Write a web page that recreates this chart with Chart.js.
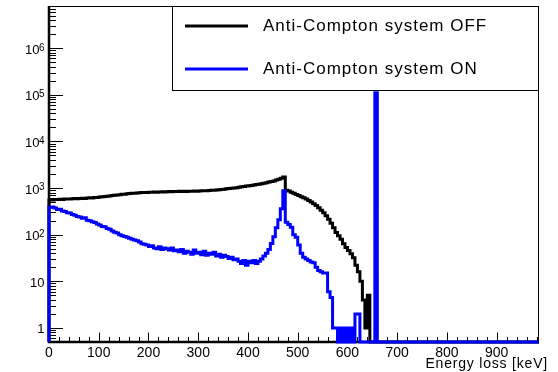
<!DOCTYPE html>
<html lang="en">
<head>
    <meta charset="UTF-8">
    <title>Anti-Compton spectrum</title>
    <script src="https://cdn.jsdelivr.net/npm/chart.js"></script>
    <style>
        body { margin: 0; background: #fff; }
        #spectrum { display: block; }
    </style>
</head>
<body>
    <canvas id="spectrum" width="558" height="372"></canvas>

    <script>
        // lower edge of each 5 keV bin
        const binLow = [
            0, 5, 10, 15, 20, 25, 30, 35, 40, 45, 50, 55, 60, 65, 70, 75, 80, 85, 90, 95,
            100, 105, 110, 115, 120, 125, 130, 135, 140, 145, 150, 155, 160, 165, 170, 175, 180, 185, 190, 195,
            200, 205, 210, 215, 220, 225, 230, 235, 240, 245, 250, 255, 260, 265, 270, 275, 280, 285, 290, 295,
            300, 305, 310, 315, 320, 325, 330, 335, 340, 345, 350, 355, 360, 365, 370, 375, 380, 385, 390, 395,
            400, 405, 410, 415, 420, 425, 430, 435, 440, 445, 450, 455, 460, 465, 470, 475, 480, 485, 490, 495,
            500, 505, 510, 515, 520, 525, 530, 535, 540, 545, 550, 555, 560, 565, 570, 575, 580, 585, 590, 595,
            600, 605, 610, 615, 620, 625, 630, 635, 640, 645, 650, 655, 660, 665, 670, 675, 680, 685
        ];

        // counts, Anti-Compton system OFF
        const countsOff = [
            550, 560, 555, 570, 565, 575, 570, 580, 585, 580, 590, 595, 590, 600, 605, 600, 610, 620, 615, 625,
            630, 640, 650, 655, 665, 675, 690, 700, 710, 720, 735, 740, 750, 760, 770, 775, 785, 790, 800, 805,
            805, 810, 815, 820, 815, 825, 830, 825, 835, 840, 835, 845, 840, 850, 845, 850, 845, 855, 850, 860,
            855, 865, 870, 875, 880, 890, 895, 900, 910, 920, 930, 945, 960, 975, 990, 1005, 1020, 1040, 1060, 1080,
            1100, 1120, 1140, 1160, 1185, 1210, 1240, 1270, 1300, 1340, 1380, 1420, 1480, 1540, 1620, 1720, 900, 860, 810, 770,
            730, 690, 650, 620, 580, 540, 500, 460, 420, 380, 335, 295, 255, 215, 175, 140, 112, 95, 80, 64,
            53, 46, 39, 32, 22, 16, 10, 4, 1, 5, 0, 0, 0, 0, 0, 0, 0, 0
        ];

        // counts, Anti-Compton system ON
        const countsOn = [
            370, 385, 390, 375, 345, 350, 320, 315, 295, 290, 270, 262, 245, 240, 225, 230, 205, 200, 190, 182,
            170, 162, 150, 148, 135, 130, 120, 113, 108, 100, 95, 91, 88, 84, 80, 77, 74, 70, 64, 62,
            60, 56, 58, 52, 50, 55, 48, 52, 50, 47, 52, 45, 47, 43, 48, 40, 44, 42, 38, 47,
            40, 42, 37, 44, 36, 40, 38, 42, 35, 38, 33, 36, 34, 31, 33, 29, 30, 27, 24, 28,
            22, 27, 25, 28, 24, 27, 30, 35, 40, 48, 65, 90, 140, 210, 360, 880, 185, 165, 145, 100,
            88, 60, 40, 33, 30, 28, 26, 25, 20, 17, 16, 15, 15, 6, 4.5, 1, 1, 0, 1, 0,
            1, 0, 1, 0, 2, 2, 0, 0, 0, 0, 0, 0, 110000, 0, 0, 0, 0, 0
        ];

        const seriesLabels = ['Anti-Compton system OFF', 'Anti-Compton system ON'];
        const seriesColors = ['#000000', '#0000ff'];
        const xTickLabels = [0, 100, 200, 300, 400, 500, 600, 700, 800, 900];
        const yDecades = [0, 1, 2, 3, 4, 5, 6];   // 10^n labels
        const xTitle = 'Energy loss [keV]';

        const X_MIN = 0, X_MAX = 985;
        const Y_MIN = 0.5, Y_MAX = 8e6;
        const FONT = "'Liberation Sans', Arial, sans-serif";

        // histogram as a stepped line, empty bins sit on the bottom of the log axis
        function histPoints(counts) {
            const pts = [{ x: binLow[0], y: Y_MIN }];
            counts.forEach((c, i) => pts.push({ x: binLow[i], y: c > 0 ? c : Y_MIN }));
            pts.push({ x: X_MAX, y: Y_MIN });
            return pts;
        }

        // ROOT style axes: ticks pointing inwards, frame, labels with exponents
        const rootAxes = {
            id: 'rootAxes',
            beforeDatasetsDraw(chart) {
                const { ctx, chartArea: a, scales: { x, y } } = chart;
                ctx.save();
                ctx.strokeStyle = '#000';

                // frame
                ctx.lineWidth = 1;
                ctx.beginPath();
                ctx.moveTo(a.left, a.top + 0.5);
                ctx.lineTo(a.right - 0.5, a.top + 0.5);
                ctx.lineTo(a.right - 0.5, a.bottom);
                ctx.stroke();
                ctx.lineWidth = 2.5;
                ctx.beginPath();
                ctx.moveTo(a.left, a.top);
                ctx.lineTo(a.left, a.bottom);
                ctx.lineTo(a.right, a.bottom);
                ctx.stroke();

                // x ticks
                ctx.lineWidth = 1;
                ctx.beginPath();
                for (let v = X_MIN; v < X_MAX; v += 20) {
                    const px = Math.round(x.getPixelForValue(v)) + 0.5;
                    const len = v % 100 === 0 ? 9.5 : 5;
                    ctx.moveTo(px, a.bottom);
                    ctx.lineTo(px, a.bottom - len);
                }
                // y ticks (decades and 2..9 sub-ticks)
                for (let d = -1; d <= 6; d++) {
                    for (let k = 1; k <= 9; k++) {
                        const v = k * Math.pow(10, d);
                        if (v < Y_MIN || v > Y_MAX) continue;
                        const py = Math.round(y.getPixelForValue(v)) + 0.5;
                        const len = k === 1 ? 14 : 7;
                        ctx.moveTo(a.left, py);
                        ctx.lineTo(a.left + len, py);
                    }
                }
                ctx.stroke();

                // y labels
                ctx.fillStyle = '#000';
                ctx.textBaseline = 'alphabetic';
                const right = a.left - 4.5;
                yDecades.forEach(n => {
                    const py = y.getPixelForValue(Math.pow(10, n));
                    if (n < 2) {
                        ctx.font = '13px ' + FONT;
                        ctx.textAlign = 'right';
                        ctx.fillText(n === 0 ? '1' : '10', right, py + 5.5);
                    } else {
                        ctx.font = '10px ' + FONT;
                        ctx.textAlign = 'left';
                        const sup = String(n);
                        const w = ctx.measureText(sup).width;
                        ctx.fillText(sup, right - w, py + 2.4);
                        ctx.font = '13px ' + FONT;
                        ctx.textAlign = 'right';
                        ctx.fillText('10', right - w + 0.5, py + 5.5);
                    }
                });

                // x title
                ctx.font = '14px ' + FONT;
                ctx.letterSpacing = '0.8px';
                ctx.textAlign = 'right';
                ctx.fillText(xTitle, a.right + 9, 368);
                ctx.restore();
            },
            afterDraw(chart) {
                const { ctx, chartArea: a } = chart;
                ctx.save();
                // legend box in the top right corner
                const bx = 172.5, by = a.top + 0.5, bw = a.right - 0.5 - bx, bh = 84;
                ctx.fillStyle = '#fff';
                ctx.fillRect(bx, by, bw, bh);
                ctx.strokeStyle = '#000';
                ctx.lineWidth = 1;
                ctx.strokeRect(bx, by, bw, bh);

                ctx.font = '17px ' + FONT;
                ctx.letterSpacing = '1px';
                ctx.textAlign = 'left';
                ctx.textBaseline = 'alphabetic';
                const rows = [26, 69];
                seriesLabels.forEach((lab, i) => {
                    ctx.strokeStyle = seriesColors[i];
                    ctx.lineWidth = 3;
                    ctx.beginPath();
                    ctx.moveTo(185, rows[i]);
                    ctx.lineTo(248, rows[i]);
                    ctx.stroke();
                    ctx.fillStyle = '#000';
                    ctx.fillText(lab, 263, rows[i] + 5);
                });
                ctx.restore();
            }
        };

        const config = {
            type: 'line',
            data: {
                datasets: [
                    {
                        label: seriesLabels[1],
                        data: histPoints(countsOn),
                        borderColor: seriesColors[1],
                        order: 0
                    },
                    {
                        label: seriesLabels[0],
                        data: histPoints(countsOff),
                        borderColor: seriesColors[0],
                        order: 1
                    }
                ]
            },
            options: {
                responsive: false,
                animation: false,
                layout: { padding: { top: 6, right: 19, left: 0, bottom: 0 } },
                datasets: {
                    line: { stepped: 'after', clip: 4, borderWidth: 3, pointRadius: 0, tension: 0 }
                },
                plugins: {
                    legend: { display: false },
                    tooltip: { enabled: false }
                },
                scales: {
                    x: {
                        type: 'linear',
                        min: X_MIN,
                        max: X_MAX,
                        grid: { display: false, drawTicks: false },
                        border: { display: false },
                        afterBuildTicks: s => { s.ticks = xTickLabels.map(v => ({ value: v })); },
                        ticks: {
                            autoSkip: false,
                            maxRotation: 0,
                            padding: 3,
                            color: '#000',
                            font: { family: FONT, size: 14 }
                        },
                        afterFit: s => { s.height = 30; }
                    },
                    y: {
                        type: 'logarithmic',
                        min: Y_MIN,
                        max: Y_MAX,
                        grid: { display: false, drawTicks: false },
                        border: { display: false },
                        ticks: { display: false },
                        afterFit: s => { s.width = 49; }
                    }
                }
            },
            plugins: [rootAxes]
        };

        const ctx = document.getElementById('spectrum').getContext('2d');
        const spectrumChart = new Chart(ctx, config);
    </script>
</body>
</html>
